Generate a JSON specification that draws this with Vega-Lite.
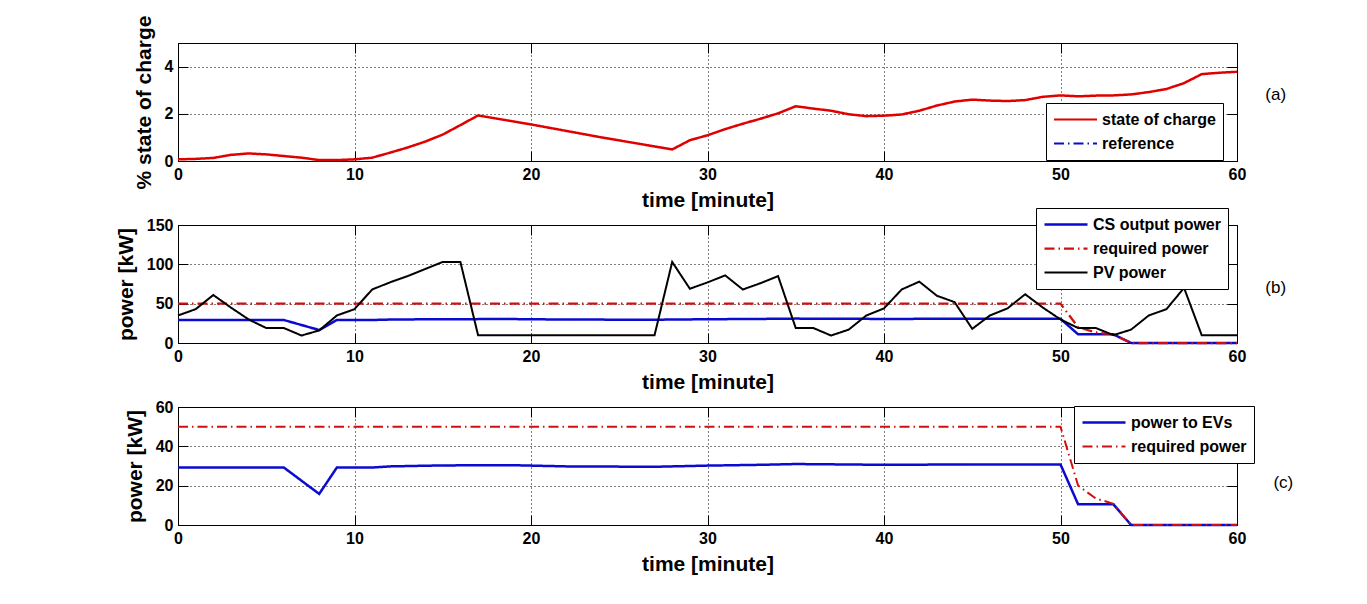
{
  "$schema": "https://vega.github.io/schema/vega-lite/v6.json",
  "background": "white",
  "padding": {"left": 114, "top": 14, "right": 5, "bottom": 5},
  "spacing": 64,
  "bounds": "flush",
  "resolve": {"scale": {"color": "independent", "strokeDash": "independent", "strokeWidth": "independent"}},
  "config": {
    "font": "Liberation Sans",
    "view": {"stroke": "black", "strokeWidth": 1},
    "axis": {
      "labelFont": "Liberation Sans", "labelFontSize": 16, "labelFontWeight": "bold", "labelColor": "black",
      "titleFont": "Liberation Sans", "titleFontSize": 21, "titleFontWeight": "bold", "titleColor": "black",
      "domainColor": "black", "tickColor": "black", "tickSize": -10, "labelPadding": 15,
      "gridColor": "black", "gridDash": [1, 3], "gridOpacity": 1, "gridWidth": 1,
      "labelFlush": false, "labelOverlap": false, "titlePadding": 7
    },
    "legend": {
      "orient": "none", "title": null,
      "labelFont": "Liberation Sans", "labelFontSize": 16, "labelFontWeight": "bold", "labelColor": "black",
      "strokeColor": "black", "fillColor": "white", "padding": 7,
      "symbolType": "stroke", "symbolSize": 1849, "symbolStrokeWidth": 2,
      "labelOffset": 4, "clipHeight": 19, "rowPadding": 5
    },
    "title": {"font": "Liberation Sans", "fontSize": 17, "fontWeight": "normal", "color": "black",
      "orient": "right", "angle": 0, "align": "left", "baseline": "middle", "anchor": "middle", "frame": "group", "offset": 9}
  },
  "datasets": {
    "soc": [
      {"t": 0, "v": 0.07, "s": "state of charge"}, {"t": 1, "v": 0.09, "s": "state of charge"},
      {"t": 2, "v": 0.13, "s": "state of charge"}, {"t": 3, "v": 0.26, "s": "state of charge"},
      {"t": 4, "v": 0.32, "s": "state of charge"}, {"t": 5, "v": 0.28, "s": "state of charge"},
      {"t": 6, "v": 0.21, "s": "state of charge"}, {"t": 7, "v": 0.14, "s": "state of charge"},
      {"t": 8, "v": 0.04, "s": "state of charge"}, {"t": 9, "v": 0.04, "s": "state of charge"},
      {"t": 10, "v": 0.07, "s": "state of charge"}, {"t": 11, "v": 0.14, "s": "state of charge"},
      {"t": 12, "v": 0.35, "s": "state of charge"}, {"t": 13, "v": 0.57, "s": "state of charge"},
      {"t": 14, "v": 0.82, "s": "state of charge"}, {"t": 15, "v": 1.12, "s": "state of charge"},
      {"t": 16, "v": 1.52, "s": "state of charge"}, {"t": 17, "v": 1.93, "s": "state of charge"},
      {"t": 20, "v": 1.55, "s": "state of charge"}, {"t": 24, "v": 1.0, "s": "state of charge"},
      {"t": 28, "v": 0.49, "s": "state of charge"}, {"t": 29, "v": 0.88, "s": "state of charge"},
      {"t": 30, "v": 1.09, "s": "state of charge"}, {"t": 31, "v": 1.35, "s": "state of charge"},
      {"t": 32, "v": 1.58, "s": "state of charge"}, {"t": 33, "v": 1.79, "s": "state of charge"},
      {"t": 34, "v": 2.02, "s": "state of charge"}, {"t": 35, "v": 2.32, "s": "state of charge"},
      {"t": 36, "v": 2.22, "s": "state of charge"}, {"t": 37, "v": 2.13, "s": "state of charge"},
      {"t": 38, "v": 1.98, "s": "state of charge"}, {"t": 39, "v": 1.9, "s": "state of charge"},
      {"t": 40, "v": 1.92, "s": "state of charge"}, {"t": 41, "v": 1.97, "s": "state of charge"},
      {"t": 42, "v": 2.13, "s": "state of charge"}, {"t": 43, "v": 2.35, "s": "state of charge"},
      {"t": 44, "v": 2.52, "s": "state of charge"}, {"t": 45, "v": 2.6, "s": "state of charge"},
      {"t": 46, "v": 2.56, "s": "state of charge"}, {"t": 47, "v": 2.54, "s": "state of charge"},
      {"t": 48, "v": 2.58, "s": "state of charge"}, {"t": 49, "v": 2.72, "s": "state of charge"},
      {"t": 50, "v": 2.78, "s": "state of charge"}, {"t": 51, "v": 2.74, "s": "state of charge"},
      {"t": 52, "v": 2.77, "s": "state of charge"}, {"t": 53, "v": 2.78, "s": "state of charge"},
      {"t": 54, "v": 2.82, "s": "state of charge"}, {"t": 55, "v": 2.92, "s": "state of charge"},
      {"t": 56, "v": 3.05, "s": "state of charge"}, {"t": 57, "v": 3.3, "s": "state of charge"},
      {"t": 58, "v": 3.68, "s": "state of charge"}, {"t": 59, "v": 3.74, "s": "state of charge"},
      {"t": 60, "v": 3.78, "s": "state of charge"}
    ],
    "power": [
      {"t": 0, "v": 29.2, "s": "CS output power"}, {"t": 6, "v": 29.2, "s": "CS output power"},
      {"t": 8, "v": 16.5, "s": "CS output power"}, {"t": 9, "v": 29.2, "s": "CS output power"},
      {"t": 11, "v": 29.2, "s": "CS output power"}, {"t": 12, "v": 29.8, "s": "CS output power"},
      {"t": 15, "v": 30.3, "s": "CS output power"}, {"t": 19, "v": 30.4, "s": "CS output power"},
      {"t": 22, "v": 29.8, "s": "CS output power"}, {"t": 27, "v": 29.6, "s": "CS output power"},
      {"t": 30, "v": 30.2, "s": "CS output power"}, {"t": 33, "v": 30.6, "s": "CS output power"},
      {"t": 35, "v": 31, "s": "CS output power"}, {"t": 40, "v": 30.6, "s": "CS output power"},
      {"t": 45, "v": 30.8, "s": "CS output power"}, {"t": 50, "v": 30.8, "s": "CS output power"},
      {"t": 51, "v": 11, "s": "CS output power"}, {"t": 53, "v": 11, "s": "CS output power"},
      {"t": 54, "v": 0, "s": "CS output power"}, {"t": 60, "v": 0, "s": "CS output power"},
      {"t": 0, "v": 50, "s": "required power"}, {"t": 50, "v": 50, "s": "required power"},
      {"t": 51, "v": 20, "s": "required power"}, {"t": 52, "v": 13.5, "s": "required power"},
      {"t": 53, "v": 10.8, "s": "required power"}, {"t": 54, "v": 0, "s": "required power"},
      {"t": 60, "v": 0, "s": "required power"},
      {"t": 0, "v": 35, "s": "PV power"}, {"t": 1, "v": 43, "s": "PV power"},
      {"t": 2, "v": 61, "s": "PV power"}, {"t": 3, "v": 45, "s": "PV power"},
      {"t": 4, "v": 30, "s": "PV power"}, {"t": 5, "v": 19, "s": "PV power"},
      {"t": 6, "v": 19, "s": "PV power"}, {"t": 7, "v": 9.5, "s": "PV power"},
      {"t": 8, "v": 16, "s": "PV power"}, {"t": 9, "v": 35, "s": "PV power"},
      {"t": 10, "v": 43, "s": "PV power"}, {"t": 11, "v": 68, "s": "PV power"},
      {"t": 12, "v": 77, "s": "PV power"}, {"t": 13, "v": 85, "s": "PV power"},
      {"t": 14, "v": 94, "s": "PV power"}, {"t": 15, "v": 103, "s": "PV power"},
      {"t": 16, "v": 103, "s": "PV power"}, {"t": 17, "v": 10, "s": "PV power"},
      {"t": 27, "v": 10, "s": "PV power"}, {"t": 28, "v": 103, "s": "PV power"},
      {"t": 29, "v": 69, "s": "PV power"}, {"t": 30, "v": 77, "s": "PV power"},
      {"t": 31, "v": 86, "s": "PV power"}, {"t": 32, "v": 68, "s": "PV power"},
      {"t": 33, "v": 76, "s": "PV power"}, {"t": 34, "v": 85, "s": "PV power"},
      {"t": 35, "v": 19, "s": "PV power"}, {"t": 36, "v": 19, "s": "PV power"},
      {"t": 37, "v": 9.5, "s": "PV power"}, {"t": 38, "v": 17, "s": "PV power"},
      {"t": 39, "v": 35, "s": "PV power"}, {"t": 40, "v": 44, "s": "PV power"},
      {"t": 41, "v": 68, "s": "PV power"}, {"t": 42, "v": 78, "s": "PV power"},
      {"t": 43, "v": 60, "s": "PV power"}, {"t": 44, "v": 52, "s": "PV power"},
      {"t": 45, "v": 18, "s": "PV power"}, {"t": 46, "v": 35, "s": "PV power"},
      {"t": 47, "v": 44, "s": "PV power"}, {"t": 48, "v": 62, "s": "PV power"},
      {"t": 49, "v": 45, "s": "PV power"}, {"t": 50, "v": 30, "s": "PV power"},
      {"t": 51, "v": 19, "s": "PV power"}, {"t": 52, "v": 19, "s": "PV power"},
      {"t": 53, "v": 10, "s": "PV power"}, {"t": 54, "v": 17, "s": "PV power"},
      {"t": 55, "v": 35, "s": "PV power"}, {"t": 56, "v": 43, "s": "PV power"},
      {"t": 57, "v": 70, "s": "PV power"}, {"t": 58, "v": 10, "s": "PV power"},
      {"t": 60, "v": 10, "s": "PV power"}
    ],
    "evs": [
      {"t": 0, "v": 29.2, "s": "power to EVs"}, {"t": 6, "v": 29.2, "s": "power to EVs"},
      {"t": 8, "v": 15.8, "s": "power to EVs"}, {"t": 9, "v": 29.2, "s": "power to EVs"},
      {"t": 11, "v": 29.2, "s": "power to EVs"}, {"t": 12, "v": 29.8, "s": "power to EVs"},
      {"t": 15, "v": 30.3, "s": "power to EVs"}, {"t": 19, "v": 30.4, "s": "power to EVs"},
      {"t": 22, "v": 29.8, "s": "power to EVs"}, {"t": 27, "v": 29.6, "s": "power to EVs"},
      {"t": 30, "v": 30.2, "s": "power to EVs"}, {"t": 33, "v": 30.6, "s": "power to EVs"},
      {"t": 35, "v": 31, "s": "power to EVs"}, {"t": 40, "v": 30.6, "s": "power to EVs"},
      {"t": 45, "v": 30.8, "s": "power to EVs"}, {"t": 50, "v": 30.8, "s": "power to EVs"},
      {"t": 51, "v": 10.5, "s": "power to EVs"}, {"t": 53, "v": 10.5, "s": "power to EVs"},
      {"t": 54, "v": 0, "s": "power to EVs"}, {"t": 60, "v": 0, "s": "power to EVs"},
      {"t": 0, "v": 50, "s": "required power"}, {"t": 50, "v": 50, "s": "required power"},
      {"t": 51, "v": 20, "s": "required power"}, {"t": 52, "v": 13.5, "s": "required power"},
      {"t": 53, "v": 10.8, "s": "required power"}, {"t": 54, "v": 0, "s": "required power"},
      {"t": 60, "v": 0, "s": "required power"}
    ]
  },
  "vconcat": [
    {
      "width": 1059, "height": 118,
      "title": {"text": "(a)", "dy": -15},
      "data": {"name": "soc"},
      "resolve": {"axis": {"x": "independent", "y": "independent"}},
      "layer": [
        {
          "mark": {"type": "line", "strokeWidth": 2.5},
          "encoding": {
            "x": {"field": "t", "type": "quantitative", "scale": {"domain": [0, 60], "nice": false},
              "axis": {"title": "time [minute]", "values": [0, 10, 20, 30, 40, 50, 60], "grid": true}},
            "y": {"field": "v", "type": "quantitative", "scale": {"domain": [0, 5], "nice": false},
              "axis": {"title": "% state of charge", "values": [0, 2, 4], "grid": true, "titlePadding": 10}},
            "color": {"field": "s", "type": "nominal",
              "scale": {"domain": ["state of charge", "reference"], "range": ["#e00000", "#0a0ad0"]},
              "legend": {"legendX": 868, "legendY": 60}},
            "strokeDash": {"field": "s", "type": "nominal",
              "scale": {"domain": ["state of charge", "reference"], "range": [[1, 0], [10, 4, 1.5, 4]]},
              "legend": {"legendX": 868, "legendY": 60}}
          }
        },
        {
          "mark": {"type": "line", "opacity": 0},
          "encoding": {
            "x": {"field": "t", "type": "quantitative",
              "axis": {"orient": "top", "values": [0, 10, 20, 30, 40, 50, 60], "labels": false, "grid": false, "title": null, "domain": false}},
            "y": {"field": "v", "type": "quantitative",
              "axis": {"orient": "right", "values": [0, 2, 4], "labels": false, "grid": false, "title": null, "domain": false}}
          }
        }
      ]
    },
    {
      "width": 1059, "height": 118,
      "title": {"text": "(b)", "dy": -4},
      "data": {"name": "power"},
      "resolve": {"axis": {"x": "independent", "y": "independent"}},
      "layer": [
        {
          "mark": {"type": "line"},
          "encoding": {
            "x": {"field": "t", "type": "quantitative", "scale": {"domain": [0, 60], "nice": false},
              "axis": {"title": "time [minute]", "values": [0, 10, 20, 30, 40, 50, 60], "grid": true}},
            "y": {"field": "v", "type": "quantitative", "scale": {"domain": [0, 150], "nice": false},
              "axis": {"title": "power [kW]", "values": [0, 50, 100, 150], "grid": true, "titlePadding": 10}},
            "color": {"field": "s", "type": "nominal", "sort": null,
              "scale": {"domain": ["CS output power", "required power", "PV power"], "range": ["#0a0ad0", "#d01010", "black"]},
              "legend": {"legendX": 858, "legendY": -17}},
            "strokeDash": {"field": "s", "type": "nominal", "sort": null,
              "scale": {"domain": ["CS output power", "required power", "PV power"], "range": [[1, 0], [10, 4, 1.5, 4], [1, 0]]},
              "legend": {"legendX": 858, "legendY": -17}},
            "strokeWidth": {"field": "s", "type": "nominal",
              "scale": {"domain": ["CS output power", "required power", "PV power"], "range": [2.5, 2, 1.5]},
              "legend": null}
          }
        },
        {
          "mark": {"type": "line", "opacity": 0},
          "encoding": {
            "x": {"field": "t", "type": "quantitative",
              "axis": {"orient": "top", "values": [0, 10, 20, 30, 40, 50, 60], "labels": false, "grid": false, "title": null, "domain": false}},
            "y": {"field": "v", "type": "quantitative",
              "axis": {"orient": "right", "values": [0, 50, 100, 150], "labels": false, "grid": false, "title": null, "domain": false}}
          }
        }
      ]
    },
    {
      "width": 1059, "height": 118,
      "title": {"text": "(c)", "dy": 9},
      "data": {"name": "evs"},
      "resolve": {"axis": {"x": "independent", "y": "independent"}},
      "layer": [
        {
          "mark": {"type": "line"},
          "encoding": {
            "x": {"field": "t", "type": "quantitative", "scale": {"domain": [0, 60], "nice": false},
              "axis": {"title": "time [minute]", "values": [0, 10, 20, 30, 40, 50, 60], "grid": true}},
            "y": {"field": "v", "type": "quantitative", "scale": {"domain": [0, 60], "nice": false},
              "axis": {"title": "power [kW]", "values": [0, 20, 40, 60], "grid": true, "titlePadding": 10}},
            "color": {"field": "s", "type": "nominal", "sort": null,
              "scale": {"domain": ["power to EVs", "required power"], "range": ["#0a0ad0", "#d01010"]},
              "legend": {"legendX": 896, "legendY": -1}},
            "strokeDash": {"field": "s", "type": "nominal", "sort": null,
              "scale": {"domain": ["power to EVs", "required power"], "range": [[1, 0], [10, 4, 1.5, 4]]},
              "legend": {"legendX": 896, "legendY": -1}},
            "strokeWidth": {"field": "s", "type": "nominal",
              "scale": {"domain": ["power to EVs", "required power"], "range": [2.5, 2]},
              "legend": null}
          }
        },
        {
          "mark": {"type": "line", "opacity": 0},
          "encoding": {
            "x": {"field": "t", "type": "quantitative",
              "axis": {"orient": "top", "values": [0, 10, 20, 30, 40, 50, 60], "labels": false, "grid": false, "title": null, "domain": false}},
            "y": {"field": "v", "type": "quantitative",
              "axis": {"orient": "right", "values": [0, 20, 40, 60], "labels": false, "grid": false, "title": null, "domain": false}}
          }
        }
      ]
    }
  ]
}
